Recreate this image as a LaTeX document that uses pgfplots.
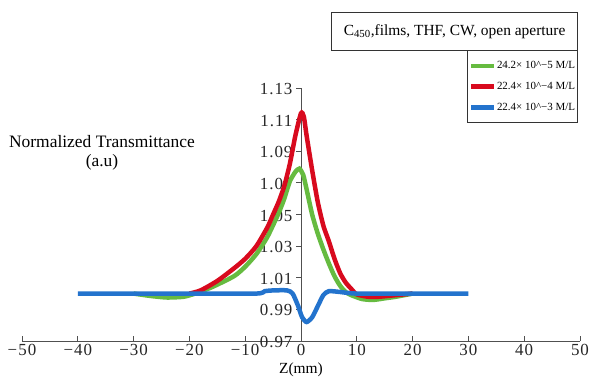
\documentclass[border=0pt]{standalone}
\usepackage{fontspec}
\setmainfont{Liberation Serif}
\usepackage{pgfplots}
\pgfplotsset{compat=1.18}
\definecolor{cg}{RGB}{102,187,64}
\definecolor{cr}{RGB}{216,10,30}
\definecolor{cb}{RGB}{35,115,205}
\definecolor{axc}{RGB}{80,80,80}
\begin{document}
\begin{tikzpicture}
\useasboundingbox (0,0) rectangle (592bp,380bp);
\begin{axis}[at={(22bp,39bp)}, anchor=south west, scale only axis,
  width=558bp, height=253bp,
  xmin=-50, xmax=50, ymin=0.97, ymax=1.13,
  axis x line=bottom, axis y line=center,
  hide obscured x ticks=false, hide obscured y ticks=false,
  axis line style={-, draw=axc, line width=0.8pt},
  xtick={-50,-40,-30,-20,-10,0,10,20,30,40,50},
  xticklabels={−50,−40,−30,−20,−10,0,10,20,30,40,50},
  ytick={0.97,0.99,1.01,1.03,1.05,1.07,1.09,1.11,1.13},
  yticklabels={0.97,0.99,1.01,1.03,1.05,1.07,1.09,1.11,1.13},
  tick align=outside, major tick length=5bp,
  tick style={draw=axc, line width=0.8pt},
  xtick style={yshift=5bp},
  tick label style={font=\fontsize{17}{17}\selectfont\addfontfeature{LetterSpace=6}, text=black!85},
  xticklabel style={yshift=3bp, inner ysep=1bp},
  yticklabel style={xshift=0bp, yshift=-1bp},
  xlabel={Z(mm)},
  xlabel style={font=\fontsize{15.5}{15.5}\selectfont, at={(axis description cs:0.5,0)}, anchor=north, yshift=-21bp, inner ysep=0.5bp},
  clip=false,
  legend style={at={(axis description cs:0.9964,1.150)}, anchor=north east,
    draw=black!80, line width=0.8pt, font=\fontsize{11}{12}\selectfont,
    inner xsep=2bp, inner ysep=9bp, row sep=8bp, cells={anchor=west},
    nodes={inner xsep=0.5bp}},
  legend image code/.code={\draw[#1, line width=4.5pt] (0bp,0bp) -- (23bp,0bp);},
]
\addplot[cg, line width=4.5bp, smooth, tension=0.4] coordinates {
(-30,1.0) (-27,0.9985) (-24,0.9975) (-21,0.998) (-19,1.0) (-16,1.004) (-12,1.011)
(-10,1.017) (-8,1.025) (-6,1.036) (-4,1.051) (-3,1.060) (-2,1.071) (-1,1.077)
(-0.3,1.079) (0.4,1.075) (1,1.066) (2,1.050) (3,1.038) (4,1.028) (5,1.019)
(6,1.011) (7,1.005) (8,1.001) (9,0.999) (11,0.9965) (13,0.996) (15,0.997)
(17,0.998) (20,1.0)};
\addlegendentry{24.2× 10\^{}−5 M/L}
\addplot[cr, line width=4.5bp, smooth, tension=0.4] coordinates {
(-20,1.0) (-18,1.002) (-15,1.008) (-12,1.016) (-10,1.022) (-8,1.030) (-6,1.042)
(-5,1.050) (-4,1.058) (-3,1.068) (-2,1.082) (-1,1.100) (0,1.114) (0.5,1.112)
(1,1.100) (2,1.078) (3,1.058) (4,1.043) (5,1.033) (6,1.022) (7,1.013) (8,1.007)
(9,1.003) (10,0.9995) (12,0.998) (14,0.998) (17,0.999) (20,1.0)};
\addlegendentry{22.4× 10\^{}−4 M/L}
\addplot[cb, line width=4.5bp, smooth, tension=0.4] coordinates {
(-40,1.0) (-20,1.0) (-8,1.0) (-6.5,1.0015) (-5,1.002) (-2.5,1.002) (-1.5,1.000)
(-0.5,0.992) (0.2,0.985) (1,0.982) (2,0.985) (3,0.992) (4,0.999) (5,1.0015)
(7,1.001) (10,1.0) (20,1.0) (30,1.0)};
\addlegendentry{22.4× 10\^{}−3 M/L}
\end{axis}
\node[align=center, font=\fontsize{17.5}{19}\selectfont] at (102bp,227bp) {Normalized Transmittance\\(a.u)};
\node[draw=black!80, line width=0.8pt, minimum width=246bp, minimum height=38bp, anchor=north east,
  font=\fontsize{15.5}{15.5}\selectfont] at (578bp,368bp) {C\textsubscript{450},films, THF, CW, open aperture};
\end{tikzpicture}
\end{document}
